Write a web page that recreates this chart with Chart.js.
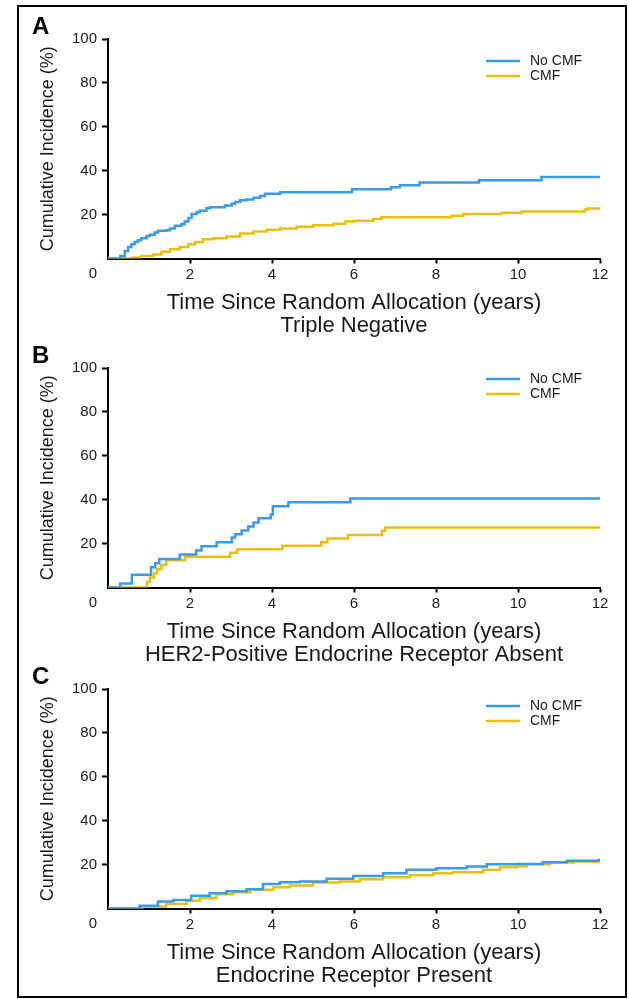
<!DOCTYPE html>
<html>
<head>
<meta charset="utf-8">
<script src="https://cdn.jsdelivr.net/npm/chart.js@4/dist/chart.umd.min.js"></script>
<style>
  html, body { margin: 0; padding: 0; background: #fff; }
  #frame { position: absolute; left: 17px; top: 5px; width: 606px; height: 989px; border: 2px solid #000; }
  canvas { position: absolute; left: 0; }
</style>
</head>
<body>
<div id="frame"></div>
<canvas id="chartA" width="629" height="330" style="top:9px"></canvas>
<canvas id="chartB" width="629" height="330" style="top:338px"></canvas>
<canvas id="chartC" width="629" height="330" style="top:659px"></canvas>
<script>
// series labels
const seriesLabels = ['No CMF', 'CMF'];
const xTitle = 'Time Since Random Allocation (years)';
const yTitle = 'Cumulative Incidence (%)';

// A - triple negative
const tnTimeNo = [0, 0.30, 0.41, 0.49, 0.57, 0.65, 0.73, 0.81, 0.94, 1.02, 1.14, 1.22, 1.43, 1.51, 1.63, 1.79, 1.87, 1.96, 2.04, 2.16, 2.24, 2.40, 2.49, 2.85, 3.02, 3.10, 3.22, 3.38, 3.55, 3.71, 3.83, 4.20, 5.95, 6.90, 7.12, 7.60, 9.05, 10.57, 12];
const tnIncNo = [0, 1.1, 3.4, 5.2, 6.5, 7.5, 8.3, 9.2, 10.3, 10.8, 11.8, 12.6, 12.9, 13.7, 14.9, 15.7, 16.9, 18.5, 20.3, 21.1, 21.8, 22.9, 23.4, 24.2, 24.9, 25.7, 26.5, 26.9, 27.7, 28.5, 29.5, 30.2, 31.5, 32.5, 33.4, 34.6, 35.7, 37.1, 37.1];
const tnTimeCmf = [0, 0.60, 0.81, 1.10, 1.30, 1.51, 1.75, 1.96, 2.12, 2.32, 2.57, 2.89, 3.22, 3.55, 3.87, 4.20, 4.60, 5.00, 5.50, 5.78, 6.00, 6.47, 6.67, 8.38, 8.67, 9.60, 10.09, 11.63, 11.70, 12];
const tnIncCmf = [0, 0.4, 1.1, 1.8, 3.1, 4.2, 5.2, 6.5, 7.5, 8.8, 9.2, 10.0, 11.4, 12.3, 13.1, 13.7, 14.5, 15.2, 15.8, 16.8, 17.2, 18.0, 18.8, 19.5, 20.3, 20.8, 21.4, 22.3, 22.8, 22.8];

// B - HER2 positive, ER absent
const herTimeNo = [0, 0.30, 0.58, 1.05, 1.15, 1.25, 1.75, 2.15, 2.28, 2.65, 3.02, 3.10, 3.26, 3.42, 3.55, 3.67, 3.97, 4.02, 4.40, 5.91, 12];
const herIncNo = [0, 1.8, 5.8, 9.2, 11.0, 13.0, 15.0, 16.8, 18.8, 20.6, 22.8, 24.3, 26.0, 27.8, 29.6, 31.5, 33.3, 37.0, 38.8, 40.5, 40.5];
const herTimeCmf = [0, 0.95, 1.02, 1.12, 1.20, 1.30, 1.42, 1.88, 2.98, 3.15, 4.25, 5.20, 5.35, 5.85, 6.68, 6.76, 12];
const herIncCmf = [0, 2.5, 4.5, 6.5, 8.3, 10.2, 12.4, 14.0, 15.8, 17.4, 19.0, 20.6, 22.3, 23.9, 25.8, 27.3, 27.3];

// C - ER present
const erTimeNo = [0, 0.77, 1.22, 1.59, 2.03, 2.48, 2.89, 3.38, 3.78, 4.19, 4.68, 5.33, 5.98, 6.71, 7.28, 8.01, 8.75, 9.24, 9.97, 10.60, 11.19, 11.96, 12];
const erIncNo = [0, 1.2, 3.2, 3.9, 5.8, 7.0, 7.9, 8.8, 11.2, 12.0, 12.3, 13.5, 14.8, 16.1, 17.6, 18.3, 19.1, 20.2, 20.3, 21.1, 21.7, 22.1, 22.1];
const erTimeCmf = [0, 0.85, 1.42, 1.91, 2.24, 2.64, 3.05, 3.46, 4.03, 4.43, 5.00, 5.65, 6.14, 6.71, 7.36, 7.93, 8.42, 9.15, 9.56, 9.97, 10.21, 10.78, 11.35, 12];
const erIncCmf = [0, 0.9, 2.1, 3.5, 4.7, 6.5, 7.4, 8.5, 9.7, 10.5, 11.8, 12.3, 13.3, 14.2, 15.2, 16.1, 16.5, 17.6, 18.8, 19.1, 20.2, 20.9, 21.4, 21.7];

const blue = '#3a9be8';
const yellow = '#e8c010';
const textColor = '#1a1a1a';
const font = 'Liberation Sans, Arial, sans-serif';

function pts(times, vals) {
  return times.map((t, i) => ({ x: t, y: vals[i] }));
}

// panel letter, the shared "0" and the legend
const extras = {
  id: 'extras',
  afterDraw(chart, args, opts) {
    const ctx = chart.ctx;
    const area = chart.chartArea;
    const xs = chart.scales.x;
    const ys = chart.scales.y;
    ctx.save();
    ctx.fillStyle = '#000';
    ctx.font = 'bold 24px ' + font;
    ctx.textAlign = 'left';
    ctx.textBaseline = 'middle';
    ctx.fillText(opts.letter, 32, area.top - 12);

    ctx.fillStyle = textColor;
    ctx.font = '15px ' + font;
    ctx.textAlign = 'right';
    ctx.textBaseline = 'top';
    ctx.fillText('0', ys.right - 11, xs.top + 8);

    ctx.font = '14px ' + font;
    ctx.textAlign = 'left';
    ctx.textBaseline = 'middle';
    chart.data.datasets.forEach((ds, i) => {
      const y = area.top + opts.legendDy + i * 15;
      ctx.strokeStyle = ds.borderColor;
      ctx.lineWidth = 2.5;
      ctx.beginPath();
      ctx.moveTo(area.left + 378, y);
      ctx.lineTo(area.left + 412, y);
      ctx.stroke();
      ctx.fillStyle = textColor;
      ctx.fillText(ds.label, area.left + 422, y);
    });
    ctx.restore();
  }
};

function makeChart(id, letter, subtitle, legendDy, noT, noV, cmfT, cmfV) {
  const hideZeroTick = c => (c.tick && c.tick.value === 0) ? 'rgba(0,0,0,0)' : '#000';
  return new Chart(document.getElementById(id), {
    type: 'line',
    data: {
      datasets: [
        { label: seriesLabels[0], data: pts(noT, noV), borderColor: blue, stepped: 'before' },
        { label: seriesLabels[1], data: pts(cmfT, cmfV), borderColor: yellow, stepped: 'before' }
      ]
    },
    options: {
      responsive: false,
      animation: false,
      layout: { padding: { left: 0, right: 29, top: 30, bottom: 0 } },
      elements: { point: { radius: 0 }, line: { borderWidth: 2.5, tension: 0 } },
      plugins: {
        legend: { display: false },
        tooltip: { enabled: false },
        extras: { letter: letter, legendDy: legendDy }
      },
      scales: {
        x: {
          type: 'linear', min: 0, max: 12,
          ticks: { stepSize: 2, padding: 2, color: textColor, maxRotation: 0, autoSkip: false,
                   font: { family: font, size: 15 }, callback: v => v === 0 ? '' : v },
          grid: { drawOnChartArea: false, tickLength: 5, tickWidth: 2, tickColor: hideZeroTick },
          border: { display: true, color: '#000', width: 2 },
          title: { display: true, text: [xTitle, subtitle], color: textColor,
                   font: { family: font, size: 22, lineHeight: 1.05 }, padding: { top: 0, bottom: 1.5 } },
          afterFit: s => { s.height = 330 - 30 - 219.5; }
        },
        y: {
          min: 0, max: 100,
          ticks: { stepSize: 20, padding: 5, color: textColor,
                   font: { family: font, size: 15 }, callback: v => v === 0 ? '' : v },
          grid: { drawOnChartArea: false, tickLength: 6, tickWidth: 2, tickColor: hideZeroTick },
          border: { display: true, color: '#000', width: 2 },
          title: { display: true, text: yTitle, color: textColor,
                   font: { family: font, size: 18, lineHeight: 1.2 }, padding: { top: 37.7, bottom: 0 } },
          afterFit: s => { s.width = 108; }
        }
      }
    },
    plugins: [extras]
  });
}

makeChart('chartA', 'A', 'Triple Negative', 22, tnTimeNo, tnIncNo, tnTimeCmf, tnIncCmf);
makeChart('chartB', 'B', 'HER2-Positive Endocrine Receptor Absent', 11, herTimeNo, herIncNo, herTimeCmf, herIncCmf);
makeChart('chartC', 'C', 'Endocrine Receptor Present', 17, erTimeNo, erIncNo, erTimeCmf, erIncCmf);
</script>
</body>
</html>
